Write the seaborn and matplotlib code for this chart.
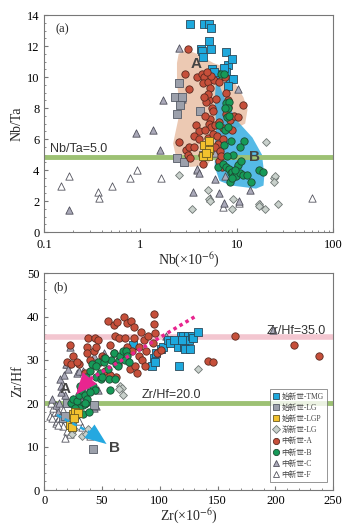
# %%
import numpy as np
import pandas as pd
import matplotlib
matplotlib.use('Agg')
import matplotlib.pyplot as plt
from matplotlib.ticker import MultipleLocator
import seaborn as sns

# %%
# data

groups = ['始新世-TMG', '始新世-LG', '始新世-LGP', '渐新世-LG',
          '中新世-A', '中新世-B', '中新世-C', '中新世-F']

# (a) Nb vs Nb/Ta
nb_tmg = [3.3, 4.6, 5.2, 5.4, 4.2, 4.3, 5.2, 5.4, 4.5, 5.5, 6.0, 7.8, 8.0, 9.0, 7.7, 8.5, 9.2, 8.0, 5.8, 7.4]
nbta_tmg = [13.4, 13.4, 13.4, 13.2, 11.8, 11.7, 12.3, 11.8, 11.3, 10.5, 10.2, 11.6, 10.8, 11.2, 10.3, 9.9, 9.9, 9.4, 10.3, 10.6]

nb_lg = [2.5, 2.3, 2.7, 2.6, 2.4, 4.1, 2.4, 2.8, 4.5]
nbta_lg = [9.6, 8.7, 8.7, 8.2, 7.6, 7.8, 4.8, 4.5, 5.0]

nb_lgp = [4.6, 5.1, 5.0, 4.5, 5.2, 4.8]
nbta_lgp = [5.6, 5.3, 4.9, 4.9, 5.9, 5.1]

nb_olg = [2.5, 3.4, 5.0, 5.2, 5.3, 8.9, 9.2, 17, 19.5, 20, 24, 25, 24, 27, 17]
nbta_olg = [3.7, 1.5, 2.7, 2.1, 2.0, 1.5, 2.1, 1.8, 1.5, 5.8, 3.5, 3.6, 3.2, 1.8, 1.7]

nb_a = [3.1, 2.9, 3.2, 2.5, 3.0, 3.1, 3.3, 3.2, 3.6, 3.8, 4.0, 3.6, 4.0, 4.4, 4.3, 3.9, 4.3, 4.6,
        4.5, 5.0, 5.3, 5.2, 5.0, 4.8, 4.6, 5.5, 5.6, 5.3, 4.7, 5.1, 5.4, 4.7, 5.0, 5.6, 6.0, 6.2,
        6.3, 5.9, 5.8, 6.5, 7.6, 7.8, 8.1, 7.8, 8.4, 9.0, 9.4, 10.3, 11.6, 7.1, 6.7, 6.5, 7.0,
        5.4, 4.9, 6.1, 6.6, 7.2, 6.8, 8.0, 5.2]
nbta_a = [11.8, 10.2, 9.2, 5.8, 5.3, 5.0, 4.8, 5.5, 5.5, 6.9, 6.5, 6.2, 6.0, 4.4, 5.0, 10.0, 10.2, 10.0,
          9.6, 9.7, 9.3, 8.5, 8.9, 8.4, 8.7, 8.0, 7.8, 7.3, 7.5, 7.0, 6.8, 6.6, 6.1, 6.3, 6.9, 6.2,
          5.7, 5.5, 9.8, 9.7, 10.0, 9.0, 8.1, 7.6, 7.2, 6.6, 7.5, 7.4, 8.2, 6.7, 5.2, 4.6, 4.2,
          10.1, 10.3, 8.6, 7.1, 6.0, 4.9, 8.5, 5.2]

nb_b = [6.8, 7.4, 7.8, 8.2, 8.0, 7.5, 7.9, 8.3, 7.5, 8.1, 6.5, 7.4, 8.6, 9.1, 11.9, 10.7, 6.4, 7.2,
        7.8, 8.2, 8.6, 9.0, 9.4, 8.4, 9.9, 10.7, 11.5, 12.6, 14.1, 16.9, 18.5, 7.9, 10.3, 11.0, 9.6, 8.8]
nbta_b = [10.2, 10.2, 8.3, 8.4, 8.0, 8.0, 7.4, 7.5, 6.6, 6.8, 6.9, 5.6, 5.9, 5.0, 5.9, 5.5, 4.2, 4.4,
          4.2, 4.1, 3.8, 3.9, 3.6, 3.2, 3.6, 3.8, 3.7, 3.7, 3.2, 4.0, 3.9, 4.9, 4.3, 4.6, 4.0, 3.5]

nb_c = [0.9, 1.35, 1.6, 1.7, 2.5, 2.7, 0.18, 2.8, 3.9, 4.0, 3.5, 6.0, 6.5, 7.3, 10.3, 10.5, 13.7, 5.9, 7.5]
nbta_c = [6.4, 6.6, 5.3, 8.5, 11.9, 8.6, 1.4, 4.5, 4.1, 3.8, 2.6, 3.4, 2.5, 1.9, 9.2, 2.0, 2.7, 5.1, 3.6]

nb_f = [0.15, 0.18, 0.36, 0.37, 0.51, 0.78, 0.92, 1.65, 5.3, 7.2, 10.0, 10.5, 17.5, 60, 3.9]
nbta_f = [3.0, 3.6, 2.6, 2.2, 3.0, 3.5, 4.0, 3.5, 2.2, 1.6, 4.4, 1.9, 1.8, 2.2, 4.0]

# outlines of fields A and B in panel (a)
field_a_nb = [2.49, 3.04, 3.86, 5.74, 7.88, 9.61, 11.7, 12.9, 12.2, 9.24, 6.73, 5.74, 4.89, 3.29, 2.39, 2.18, 2.30, 2.59, 2.39, 2.39]
field_a_nbta = [11.5, 11.75, 11.5, 10.9, 10.6, 9.6, 8.7, 7.9, 7.0, 6.6, 5.9, 4.85, 4.3, 4.2, 4.6, 5.7, 6.4, 7.9, 9.6, 10.9]
field_b_nb = [6.1, 7.4, 10.0, 14.5, 18.2, 19.3, 18.9, 15.8, 8.8, 6.6, 5.9, 5.9, 6.1, 5.9]
field_b_nbta = [10.0, 8.7, 7.2, 6.1, 5.0, 3.7, 3.0, 2.8, 3.0, 3.3, 4.2, 5.5, 6.8, 8.5]

# (b) Zr vs Zr/Hf
zr_tmg = [77, 93, 95, 96, 97, 101, 103, 107, 109, 116, 117, 118, 120, 121, 121, 122, 124, 125, 126, 128, 129, 133, 112, 119]
zrhf_tmg = [33.5, 28.5, 30.5, 29.5, 31.5, 32.5, 33, 34.5, 34, 33, 28.5, 35.5, 35.5, 34, 33, 32.5, 35.5, 34.5, 32.5, 35.5, 35, 36.5, 34.5, 34.5]

zr_lg = [20, 42, 43, 34, 16, 18]
zrhf_lg = [20, 9.5, 19.7, 20.1, 16.5, 17]

zr_lgp = [25, 27, 22, 24, 29, 26]
zrhf_lgp = [17.5, 18, 15, 14.5, 17.7, 16.5]

zr_olg = [33, 36, 38, 66, 67, 68, 133, 24, 26, 65]
zrhf_olg = [12.5, 13, 14, 24, 23.5, 22, 28, 13, 14, 23.2]

zr_a = [22, 25, 20, 23, 38, 37, 37, 40, 44, 47, 43, 50, 52, 48, 55, 57, 60, 61, 60, 63, 64, 65, 62, 67,
        69, 72, 72, 75, 76, 74, 78, 78, 79, 80, 82, 82, 84, 85, 86, 88, 87, 90, 94, 95, 95, 96, 98, 101,
        53, 57, 142, 146, 165, 216, 238, 70, 45, 35, 30, 28]
zrhf_a = [33.5, 31, 29.5, 29, 35, 33, 31.5, 30, 35, 34.5, 32, 31, 30.5, 29.5, 39, 33.5, 38, 35.5, 31.5, 38.8, 29, 35, 26, 31,
          40, 33, 38.5, 39, 32, 28, 37.5, 35, 28.5, 27, 33, 31, 36.5, 30, 34.5, 32, 28.5, 35.5, 34, 40.5, 38.3, 36.3, 31.5, 32.2,
          27.5, 26.5, 29.8, 29.6, 35.5, 33.5, 30.8, 35, 33, 27, 29, 29.5]

zr_b = [23, 25, 28, 30, 32, 33, 35, 36, 34, 30, 34, 37, 38, 40, 42, 45, 47, 48, 49, 52, 55, 56, 57, 58,
        60, 62, 65, 66, 68, 71, 72, 70, 73, 61, 50, 44, 40, 39, 27, 29, 31, 36, 41, 45, 53, 64, 35]
zrhf_b = [20, 21, 20.5, 22, 23, 24, 22, 20, 19.5, 19, 17.6, 21, 25, 27.5, 24, 26, 29.5, 27, 25.5, 29.5, 28, 25.5, 23, 30,
          31.5, 29, 30, 31, 32, 32, 31, 30, 29.5, 25.5, 26, 23, 22.5, 18, 19, 17.5, 24, 26, 29, 28.5, 30.5, 28.5, 20]

zr_c = [7, 12, 14, 15, 17, 19, 21, 22, 18, 15, 28, 34, 36, 40, 43, 45, 47, 49, 43, 52, 78, 105, 198, 30, 10, 13]
zrhf_c = [21, 18, 25.5, 24, 26.5, 29, 28, 33, 22, 22.5, 27, 27.5, 23, 23.5, 19, 19.3, 23, 30.5, 31, 31.5, 34, 35.5, 37, 27.5, 19.5, 20]

zr_f = [5, 7, 9, 10, 11, 13, 14, 16, 20, 22, 18, 12, 25, 30, 33, 39, 40, 8, 20, 35, 27, 16, 6]
zrhf_f = [17, 16.5, 18, 15.5, 16, 16.5, 15.5, 14.8, 13.5, 13, 12, 15, 21, 16, 14.5, 13.5, 12.5, 19, 29, 22, 18.5, 18.5, 20]

# trend arrows in panel (b)
trend_a_zr = [130, 38]
trend_a_zrhf = [39.9, 25.3]
trend_a_tip = (27.7, 22.0)
trend_b_zr = [11, 43]
trend_b_zrhf = [17.3, 12.8]
trend_b_tip = (54, 10.6)

# %%
sns.set_style("ticks")
plt.rcParams['font.family'] = ['Liberation Serif', 'Noto Sans CJK SC']
plt.rcParams['mathtext.fontset'] = 'stix'
plt.rcParams['xtick.direction'] = 'in'
plt.rcParams['ytick.direction'] = 'in'

styles = {
    '始新世-TMG': dict(marker='s', color='#1ea9dd', edgecolor='#2b4a5a', s=26),
    '始新世-LG': dict(marker='s', color='#9ca0ab', edgecolor='#555a66', s=26),
    '始新世-LGP': dict(marker='s', color='#f2c12e', edgecolor='#6a5a20', s=26),
    '渐新世-LG': dict(marker='D', color='#c9d1cc', edgecolor='#6f7774', s=16),
    '中新世-A': dict(marker='o', color='#c64f3a', edgecolor='#5a2a20', s=28),
    '中新世-B': dict(marker='o', color='#169a58', edgecolor='#1d4a33', s=28),
    '中新世-C': dict(marker='^', color='#aaa9b9', edgecolor='#50505c', s=28),
    '中新世-F': dict(marker='^', color='white', edgecolor='#55555f', s=28),
}

fig = plt.figure(figsize=(3.53, 5.29), dpi=100)
ax1 = fig.add_axes([0.125, 0.5614, 0.819, 0.410])
ax2 = fig.add_axes([0.125, 0.0737, 0.819, 0.410])

data_a = [(nb_tmg, nbta_tmg), (nb_lg, nbta_lg), (nb_lgp, nbta_lgp), (nb_olg, nbta_olg),
          (nb_a, nbta_a), (nb_b, nbta_b), (nb_c, nbta_c), (nb_f, nbta_f)]
data_b = [(zr_tmg, zrhf_tmg), (zr_lg, zrhf_lg), (zr_lgp, zrhf_lgp), (zr_olg, zrhf_olg),
          (zr_a, zrhf_a), (zr_b, zrhf_b), (zr_c, zrhf_c), (zr_f, zrhf_f)]
draw_order = ['中新世-F', '中新世-C', '渐新世-LG', '始新世-LG', '始新世-TMG', '中新世-A', '中新世-B', '始新世-LGP']

# ---- panel (a)
ax1.fill(field_a_nb, field_a_nbta, color='#e6b79a', alpha=0.75, lw=0, zorder=1)
ax1.fill(field_b_nb, field_b_nbta, color='#2ba9e0', alpha=0.8, lw=0, zorder=1)
ax1.axhline(4.85, color='#9dc174', lw=3.5, zorder=1.5)
for g in draw_order:
    i = groups.index(g)
    st = styles[g]
    sns.scatterplot(x=data_a[i][0], y=data_a[i][1], ax=ax1, marker=st['marker'], color=st['color'],
                    edgecolor=st['edgecolor'], s=st['s'], linewidth=0.6, zorder=3, legend=False)
ax1.set_xscale('log')
ax1.set_xlim(0.1, 100)
ax1.set_ylim(0, 14)
ax1.yaxis.set_major_locator(MultipleLocator(2))
ax1.yaxis.set_minor_locator(MultipleLocator(0.5))
ax1.set_ylabel('Nb/Ta', fontsize=10, labelpad=2)
ax1.set_xlabel('Nb(×10$^{-6}$)', fontsize=10, labelpad=0)
ax1.set_xticks([0.1, 1, 10, 100])
ax1.set_xticklabels(['0.1', '1', '10', '100'])
ax1.text(0.115, 5.15, 'Nb/Ta=5.0', family='Liberation Sans', fontsize=9, color='#333333', zorder=4)
ax1.text(3.3, 10.6, 'A', family='Liberation Sans', fontsize=11, fontweight='bold', color='#444444', zorder=4)
ax1.text(13.5, 4.6, 'B', family='Liberation Sans', fontsize=11, fontweight='bold', color='#444444', zorder=4)
ax1.text(0.13, 12.9, '(a)', fontsize=9)

# ---- panel (b)
ax2.axhline(35.3, color='#f3c6d0', lw=4, zorder=1)
ax2.axhline(20, color='#9dc174', lw=3.5, zorder=1)
for g in draw_order:
    i = groups.index(g)
    st = styles[g]
    sns.scatterplot(x=data_b[i][0], y=data_b[i][1], ax=ax2, marker=st['marker'], color=st['color'],
                    edgecolor=st['edgecolor'], s=st['s'], linewidth=0.6, zorder=3, legend=False)
ax2.plot(trend_a_zr, trend_a_zrhf, color='#e8258f', lw=2.5, ls=(0, (1, 1)), zorder=4)
ax2.annotate('', xy=trend_a_tip, xytext=(trend_a_zr[1], trend_a_zrhf[1]),
             arrowprops=dict(arrowstyle='-|>,head_length=1.4,head_width=0.6', color='#e8258f',
                             lw=0, mutation_scale=11, shrinkA=0, shrinkB=0), zorder=4)
ax2.plot(trend_b_zr, trend_b_zrhf, color='#25a8e0', lw=1.8, ls=(0, (2, 1.5)), zorder=4)
ax2.annotate('', xy=trend_b_tip, xytext=(trend_b_zr[1], trend_b_zrhf[1]),
             arrowprops=dict(arrowstyle='-|>,head_length=1.4,head_width=0.55', color='#25a8e0',
                             lw=0, mutation_scale=11, shrinkA=0, shrinkB=0), zorder=4)
ax2.set_xlim(0, 250)
ax2.set_ylim(0, 50)
ax2.xaxis.set_major_locator(MultipleLocator(50))
ax2.xaxis.set_minor_locator(MultipleLocator(10))
ax2.yaxis.set_major_locator(MultipleLocator(10))
ax2.yaxis.set_minor_locator(MultipleLocator(2))
ax2.set_ylabel('Zr/Hf', fontsize=10, labelpad=2)
ax2.set_xlabel('Zr(×10$^{-6}$)', fontsize=10, labelpad=0)
ax2.text(192, 36.0, 'Zr/Hf=35.0', family='Liberation Sans', fontsize=9, color='#333333', zorder=4)
ax2.text(84, 21.3, 'Zr/Hf=20.0', family='Liberation Sans', fontsize=9, color='#333333', zorder=4)
ax2.text(13, 22.3, 'A', family='Liberation Sans', fontsize=11, fontweight='bold', color='#444444', zorder=5)
ax2.text(56, 8.8, 'B', family='Liberation Sans', fontsize=11, fontweight='bold', color='#444444', zorder=5)
ax2.text(8, 46, '(b)', fontsize=9)

handles = []
for g in groups:
    st = styles[g]
    handles.append(plt.Line2D([], [], ls='', marker=st['marker'], markerfacecolor=st['color'],
                              markeredgecolor=st['edgecolor'], markersize=4.5 if st['marker'] != 'D' else 3.8,
                              markeredgewidth=0.6, label=g))
leg = ax2.legend(handles=handles, loc='lower right', bbox_to_anchor=(0.978, 0.035), fontsize=5.5,
                 frameon=True, fancybox=False, edgecolor='#666666', handlelength=0.7,
                 handletextpad=0.35, labelspacing=0.42, borderpad=0.45, borderaxespad=0)
leg.get_frame().set_linewidth(0.6)
for t in leg.get_texts():
    t.set_color('#444444')

for ax in (ax1, ax2):
    for sp in ax.spines.values():
        sp.set_color('#777777')
        sp.set_linewidth(0.8)
    ax.tick_params(which='both', colors='#777777', labelcolor='black', labelsize=9, top=False, right=False)
    ax.tick_params(which='major', length=3)
    ax.tick_params(which='minor', length=1.5)
ax1.tick_params(axis='x', pad=5)

plt.savefig('out.png', dpi=100)
